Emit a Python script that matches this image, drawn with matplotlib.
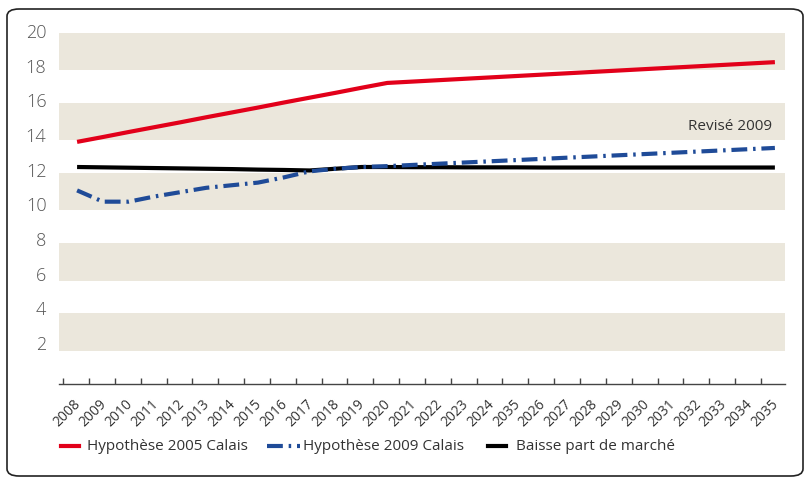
import matplotlib.pyplot as plt
import numpy as np
from matplotlib.patches import FancyBboxPatch
from matplotlib.lines import Line2D

# data
years = ['2008', '2009', '2010', '2011', '2012', '2013', '2014', '2015', '2016', '2017',
         '2018', '2019', '2020', '2021', '2022', '2023', '2024', '2035', '2026', '2027',
         '2028', '2029', '2030', '2031', '2032', '2033', '2034', '2035']
hyp_2005 = [13.6, 13.88, 14.17, 14.45, 14.73, 15.02, 15.3, 15.58, 15.87, 16.15, 16.43, 16.72, 17.0,
            17.08, 17.16, 17.24, 17.32, 17.4, 17.48, 17.56, 17.64, 17.72, 17.8, 17.88, 17.96, 18.04,
            18.12, 18.2]
hyp_2009 = [10.8, 10.15, 10.15, 10.45, 10.7, 10.95, 11.1, 11.25, 11.55, 11.9, 12.05, 12.15, 12.2,
            12.27, 12.34, 12.41, 12.48, 12.55, 12.62, 12.69, 12.76, 12.83, 12.9, 12.97, 13.04, 13.11,
            13.18, 13.25]
baisse = [12.15, 12.13, 12.11, 12.09, 12.07, 12.05, 12.03, 12.0, 11.98, 11.95, 12.05, 12.15, 12.15,
          12.14, 12.14, 12.13, 12.13, 12.13, 12.12, 12.12, 12.12, 12.12, 12.12, 12.12, 12.12, 12.12,
          12.12, 12.12]
y_ticks = [2, 4, 6, 8, 10, 12, 14, 16, 18, 20]
band_bottoms = [1.55, 5.6, 9.65, 13.7, 17.75]
band_height = 2.15

red = '#e2001a'
blue = '#1f4b98'
beige = '#ebe7dc'

plt.rcParams['font.family'] = ['Open Sans', 'DejaVu Sans']

fig = plt.figure(figsize=(8.07, 4.79), dpi=100)
ax = fig.add_axes([0.0731, 0.1983, 0.8996, 0.7599])

x = np.arange(len(years))
for b in band_bottoms:
    ax.axhspan(b, b + band_height, color=beige, lw=0, zorder=0)

ax.plot(x, hyp_2005, color=red, lw=3, solid_capstyle='butt', zorder=3)
ax.plot(x, baisse, color='black', lw=3, solid_capstyle='butt', zorder=3)
ax.plot(x, hyp_2009, color=blue, lw=3, linestyle=(0, (3.8, 1.4, 0.6, 1.4)), zorder=4)

ax.text(26.9, 14.46, 'Revisé 2009', ha='right', va='center', fontsize=11, color='#333333')

ax.set_xlim(-0.7, 27.39)
ax.set_ylim(-0.37, 20.63)

for s in ['left', 'right', 'top']:
    ax.spines[s].set_visible(False)
ax.spines['bottom'].set_color('#444444')
ax.spines['bottom'].set_linewidth(1)

ax.set_xticks(x - 0.15)
ax.set_xticklabels(years, rotation=45, ha='right', va='top', rotation_mode='anchor',
                   fontsize=10, color='#333333')
ax.tick_params(axis='x', which='major', length=0, pad=9)
ax.set_xticks(x - 0.54, minor=True)
ax.tick_params(axis='x', which='minor', direction='in', length=4, width=1, color='#444444')

ax.set_yticks(y_ticks)
ax.set_yticklabels([str(v) for v in y_ticks], fontsize=13, color='#555555', fontweight='light')
ax.tick_params(axis='y', length=0, pad=9)

# legend drawn by hand
ly = 1 - 446 / 479
fig.add_artist(Line2D([61 / 807, 79 / 807], [ly, ly], color=red, lw=3, transform=fig.transFigure))
fig.text(87 / 807, ly, 'Hypothèse 2005 Calais', va='center', fontsize=11, color='#333333')
fig.add_artist(Line2D([267 / 807, 300 / 807], [ly, ly], color=blue, lw=3,
                      linestyle=(0, (3.8, 1.4, 0.6, 1.4)), transform=fig.transFigure))
fig.text(303 / 807, ly, 'Hypothèse 2009 Calais', va='center', fontsize=11, color='#333333')
fig.add_artist(Line2D([488 / 807, 506 / 807], [ly, ly], color='black', lw=3, transform=fig.transFigure))
fig.text(516 / 807, ly, 'Baisse part de marché', va='center', fontsize=11, color='#333333')

# rounded frame
frame = FancyBboxPatch((7 / 807, 3 / 479), 796 / 807, 467 / 479,
                       boxstyle='round,pad=0,rounding_size=0.015',
                       transform=fig.transFigure, fill=False, ec='#222222', lw=1.2)
fig.add_artist(frame)

fig.savefig('out.png', dpi=100)
